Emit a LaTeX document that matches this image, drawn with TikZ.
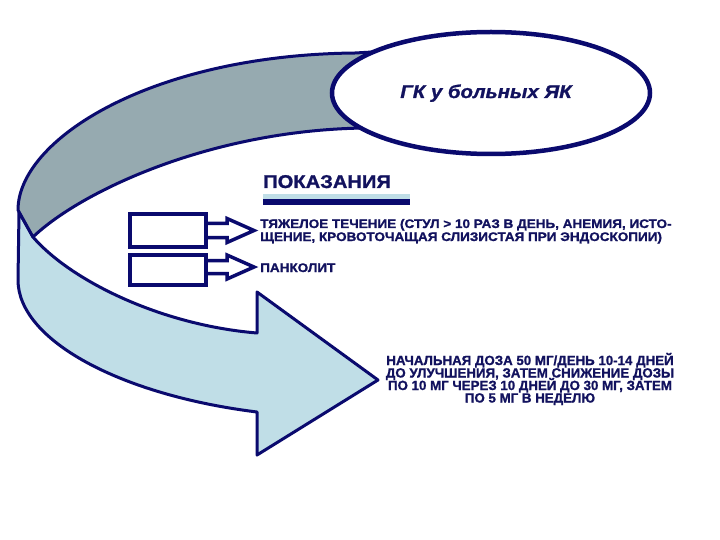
\documentclass[tikz,border=0pt]{standalone}
\usepackage{fontspec}
\setmainfont{Liberation Sans}
\newfontfamily\heavy{Liberation Sans Bold}[FakeBold=1.2]
\newfontfamily\heavywide{Liberation Sans Bold}[FakeBold=1.2, FakeStretch=1.09]
\newfontfamily\heavyit{Liberation Sans Bold Italic}[FakeBold=1.2, FakeStretch=1.1]
\usetikzlibrary{shapes.geometric}
\definecolor{navy}{HTML}{0A0A6E}
\definecolor{txtnavy}{HTML}{12125E}
\definecolor{bandDark}{HTML}{96AAB0}
\definecolor{bandLight}{HTML}{C0DEE7}
\begin{document}
\begin{tikzpicture}[x=1pt,y=-1pt,
  band/.style={draw=navy, line width=3pt, line join=round},
  boxst/.style={draw=navy, line width=4pt, fill=white, rectangle, inner sep=0pt},
  blockarrow/.style={draw=navy, line width=3.5pt, fill=white, line join=miter},
  txt/.style={text=txtnavy, font=\heavywide\fontsize{12.4}{13}\selectfont, inner sep=0pt, anchor=base west},
  dose/.style={text=txtnavy, font=\heavy\fontsize{13.3}{14}\selectfont, inner sep=0pt, anchor=base},
  head/.style={text=txtnavy, font=\heavywide\fontsize{18.5}{20}\selectfont, inner sep=0pt, anchor=base west}]
\useasboundingbox[fill=white] (0,0) rectangle (720,540);

% light (lower) band with arrow head
\path[band, fill=bandLight]
  (19,212) -- (18,280) .. controls (18,340) and (120,395) .. (257,412)
  -- (257,455) -- (378,380) -- (257,292) -- (257,333)
  .. controls (160,325) and (70,280) .. (33,237) -- cycle;

% dark (upper) band
\path[band, fill=bandDark]
  (390,51) -- (355,53) .. controls (150,55) and (18,140) .. (18,210)
  -- (33,237) .. controls (80,192) and (210,130) .. (365,128) -- (390,128) -- cycle;

% ellipse
\node[ellipse, draw=navy, line width=4.5pt, fill=white, minimum width=318pt, minimum height=122pt, inner sep=0pt] (gk) at (491,93) {};
\node[text=txtnavy, font=\heavyit\fontsize{18.5}{20}\selectfont, inner sep=0pt, anchor=base] (gktxt) at (486,98) {ГК у больных ЯК};

% heading with bar
\node[head] (pok) at (263,188) {ПОКАЗАНИЯ};
\fill[bandLight] (263,194) rectangle (410,199.5);
\fill[navy] (263,199.5) rectangle (410,205);

% boxes
\node[boxst, minimum width=76pt, minimum height=32.5pt] (b1) at (168,230.5) {};
\node[boxst, minimum width=76pt, minimum height=30pt] (b2) at (168,270) {};

% block arrows
\path[blockarrow] (b1.east) ++(0,-7) -- ++(19,0) -- ++(0,-5) -- ++(27,12) -- ++(-27,12) -- ++(0,-5) -- ++(-19,0);
\path[blockarrow] (b2.east) ++(0,-9.5) -- ++(19,0) -- ++(0,-5.5) -- ++(27,12) -- ++(-27,12) -- ++(0,-5.5) -- ++(-19,0);

% texts
\node[txt] (l1a) at (260,228) {ТЯЖЕЛОЕ ТЕЧЕНИЕ (СТУЛ > 10 РАЗ В ДЕНЬ, АНЕМИЯ, ИСТО-};
\node[txt] (l1b) at (260,241) {ЩЕНИЕ, КРОВОТОЧАЩАЯ СЛИЗИСТАЯ ПРИ ЭНДОСКОПИИ)};
\node[txt] (pan) at (260,272) {ПАНКОЛИТ};

\node[dose] (d1) at (530,365) {НАЧАЛЬНАЯ ДОЗА 50 МГ/ДЕНЬ 10-14 ДНЕЙ};
\node[dose] (d2) at (530,377.5) {ДО УЛУЧШЕНИЯ, ЗАТЕМ СНИЖЕНИЕ ДОЗЫ};
\node[dose] (d3) at (530,390) {ПО 10 МГ ЧЕРЕЗ 10 ДНЕЙ ДО 30 МГ, ЗАТЕМ};
\node[dose] (d4) at (530,402.5) {ПО 5 МГ В НЕДЕЛЮ};
\end{tikzpicture}
\end{document}
